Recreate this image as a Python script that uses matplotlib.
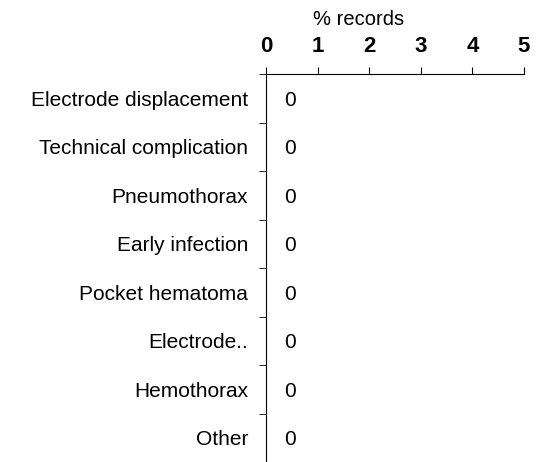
import numpy as np
import matplotlib.pyplot as plt
from matplotlib.ticker import FixedLocator

# Complication categories and their share of records
categories = ["Electrode displacement", "Technical complication", "Pneumothorax",
              "Early infection", "Pocket hematoma", "Electrode..", "Hemothorax", "Other"]
values = [0, 0, 0, 0, 0, 0, 0, 0]
x_ticks = [0, 1, 2, 3, 4, 5]

plt.rcParams['font.family'] = ['Liberation Sans', 'DejaVu Sans']

fig = plt.figure(figsize=(5.41, 4.62), dpi=100)
W, H = 541, 462
ax = fig.add_axes([266 / W, 0, (524 - 266) / W, (462 - 74) / H])

y = np.arange(len(categories))
ax.barh(y, values, height=0.6, color='#4472c4')
for yi, v in zip(y, values):
    ax.annotate(str(v), (v, yi), xytext=(13, 0), textcoords='offset points',
                va='center_baseline', ha='left', fontsize=15)

ax.set_xlim(0, 5)
ax.set_ylim(len(categories) - 0.5, -0.5)
ax.xaxis.tick_top()
ax.xaxis.set_label_position('top')
ax.set_xticks(x_ticks)
ax.set_xticklabels([str(t) for t in x_ticks], fontsize=16, fontweight='bold')
ax.set_xlabel("% records", fontsize=14.5)
ax.xaxis.set_label_coords(0.357, 1.127)
ax.tick_params(axis='x', length=5, pad=7.5)

ax.set_yticks(y)
ax.set_yticklabels(categories, fontsize=15)
ax.tick_params(axis='y', which='major', length=0, pad=13)
ax.yaxis.set_minor_locator(FixedLocator(np.arange(-0.5, len(categories), 1.0)))
ax.tick_params(axis='y', which='minor', length=5)

for s in ['right', 'bottom']:
    ax.spines[s].set_visible(False)

fig.savefig("out.png", dpi=100)
